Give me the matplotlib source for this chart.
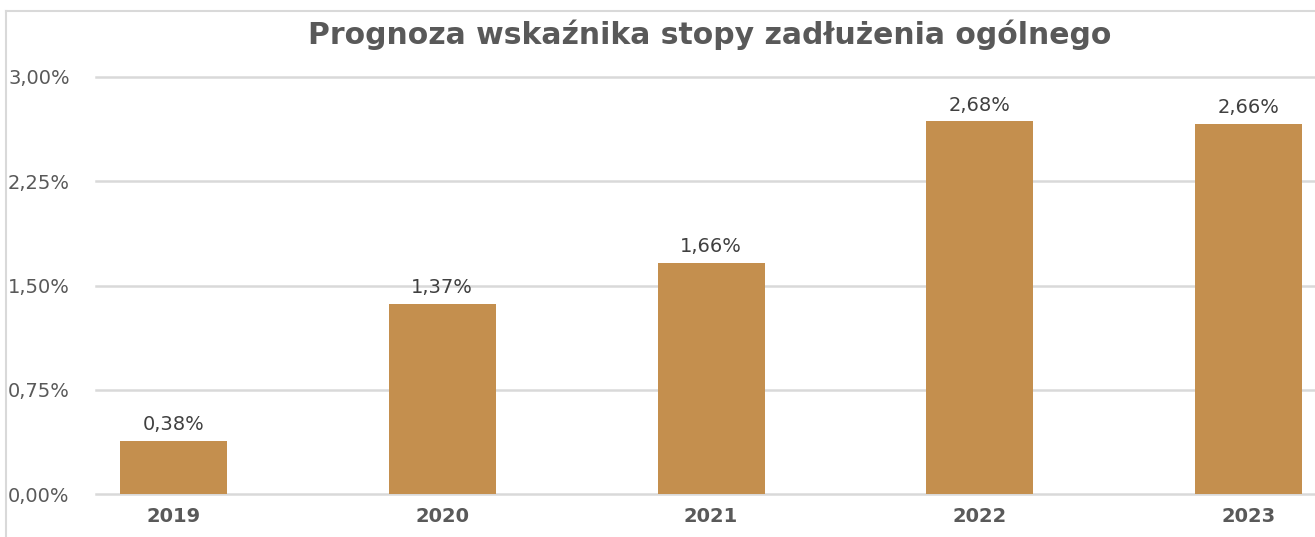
import matplotlib
matplotlib.use("Agg")
import matplotlib.pyplot as plt
from matplotlib.lines import Line2D

years = ["2019", "2020", "2021", "2022", "2023"]
values = [0.38, 1.37, 1.66, 2.68, 2.66]
yticks = [0.0, 0.75, 1.50, 2.25, 3.00]
title = "Prognoza wskaźnika stopy zadłużenia ogólnego"

W, H = 1315, 537
fig = plt.figure(figsize=(W / 100, H / 100), dpi=100)
fig.patch.set_facecolor("white")

# chart frame (top and left border)
fig.add_artist(Line2D([6 / W, 6 / W], [0, 1 - 11 / H], color="#d9d9d9", lw=1.5))
fig.add_artist(Line2D([6 / W, 1], [1 - 11 / H, 1 - 11 / H], color="#d9d9d9", lw=1.5))

ax = fig.add_axes([96 / W, 43 / H, 1 - 96 / W, (494 - 77) / H])
ax.set_facecolor("none")
x = list(range(len(years)))
bars = ax.bar(x, values, width=0.398, color="#C48F4E", zorder=3)
ax.set_xlim(-0.288, 4.247)
ax.set_ylim(0, 3.0)
ax.set_yticks(yticks)
ax.set_yticklabels([f"{v:.2f}%".replace(".", ",") for v in yticks])
ax.yaxis.grid(True, color="#d9d9d9", lw=1.8, zorder=0)
for gl in ax.get_ygridlines():
    gl.set_clip_on(False)
ax.set_xticks(x)
ax.set_xticklabels(years, fontweight="bold")
for s in ax.spines.values():
    s.set_visible(False)
ax.tick_params(axis="both", length=0, colors="#595959", labelsize=14)
ax.tick_params(axis="x", pad=9)
ax.tick_params(axis="y", pad=88 * 72 / 100)
for lab in ax.get_yticklabels():
    lab.set_horizontalalignment("left")
    lab.set_verticalalignment("center_baseline")

for b, v in zip(bars, values):
    ax.annotate(f"{v:.2f}%".replace(".", ","), (b.get_x() + b.get_width() / 2, v),
                xytext=(0, 5), textcoords="offset points", ha="center", va="bottom",
                fontsize=14, color="#404040")

fig.text(710 / W, 1 - 35 / H, title, ha="center", va="center", fontsize=21.5,
         fontweight="bold", color="#595959", family="DejaVu Sans")

fig.savefig("out.png", dpi=100)
